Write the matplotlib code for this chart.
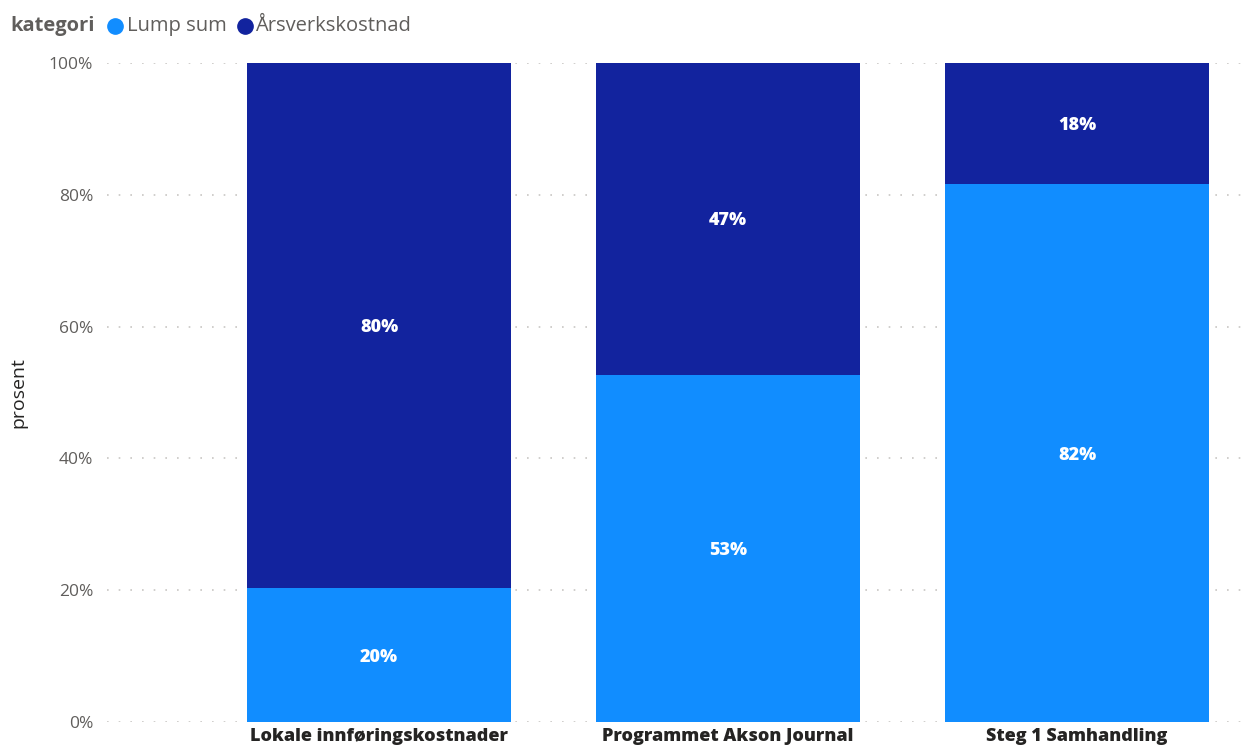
import numpy as np
import matplotlib.pyplot as plt
from matplotlib.lines import Line2D

categories = ['Lokale innføringskostnader', 'Programmet Akson Journal', 'Steg 1 Samhandling']
lump_sum = [20.3, 52.7, 81.6]
aarsverk = [79.7, 47.3, 18.4]
series_names = ['Lump sum', 'Årsverkskostnad']
colors = ['#118DFF', '#12239E']
yticks = [0, 20, 40, 60, 80, 100]

plt.rcParams['font.family'] = ['Open Sans', 'DejaVu Sans']

fig = plt.figure(figsize=(12.48, 7.51), dpi=100)
ax = fig.add_axes([0.0857, 0.0386, 0.9143, 0.8775])

x = np.arange(len(categories))
w = 0.756
ax.bar(x, lump_sum, width=w, color=colors[0], zorder=3)
ax.bar(x, aarsverk, width=w, bottom=lump_sum, color=colors[1], zorder=3)

for i in range(len(categories)):
    ax.text(x[i], lump_sum[i] / 2, f'{lump_sum[i]:.0f}%', ha='center', va='center_baseline',
            color='white', fontsize=13, fontweight='heavy', zorder=4)
    ax.text(x[i], lump_sum[i] + aarsverk[i] / 2, f'{aarsverk[i]:.0f}%', ha='center',
            va='center_baseline', color='white', fontsize=13, fontweight='heavy', zorder=4)

ax.set_xlim(-0.78, 2.49)
ax.set_ylim(0, 100)
ax.set_yticks(yticks)
ax.set_yticklabels([f'{t}%' for t in yticks], color='#605E5C', fontsize=12.5)
ax.set_xticks(x)
ax.set_xticklabels(categories, fontsize=13, fontweight='heavy', color='#252423')
ax.tick_params(axis='both', length=0)
ax.tick_params(axis='y', pad=10)
ax.tick_params(axis='x', pad=4)
for sp in ax.spines.values():
    sp.set_visible(False)
ax.grid(axis='y', color='#C8C6C4', linestyle=(0, (1, 6)), linewidth=1.2, zorder=0)
ax.set_axisbelow(True)
ax.set_ylabel('prosent', fontsize=14, color='#252423', labelpad=15)

# legend row
fig.text(0.008, 0.965, 'kategori', fontsize=14.5, fontweight='bold', color='#605E5C',
         va='center', ha='left')
fig.add_artist(Line2D([0.0925], [0.965], marker='o', markersize=11, color=colors[0],
                      transform=fig.transFigure))
fig.text(0.1015, 0.965, series_names[0], fontsize=14.5, color='#605E5C', va='center')
fig.add_artist(Line2D([0.196], [0.965], marker='o', markersize=11, color=colors[1],
                      transform=fig.transFigure))
fig.text(0.2045, 0.965, series_names[1], fontsize=14.5, color='#605E5C', va='center')

fig.savefig('out.png', dpi=100)
